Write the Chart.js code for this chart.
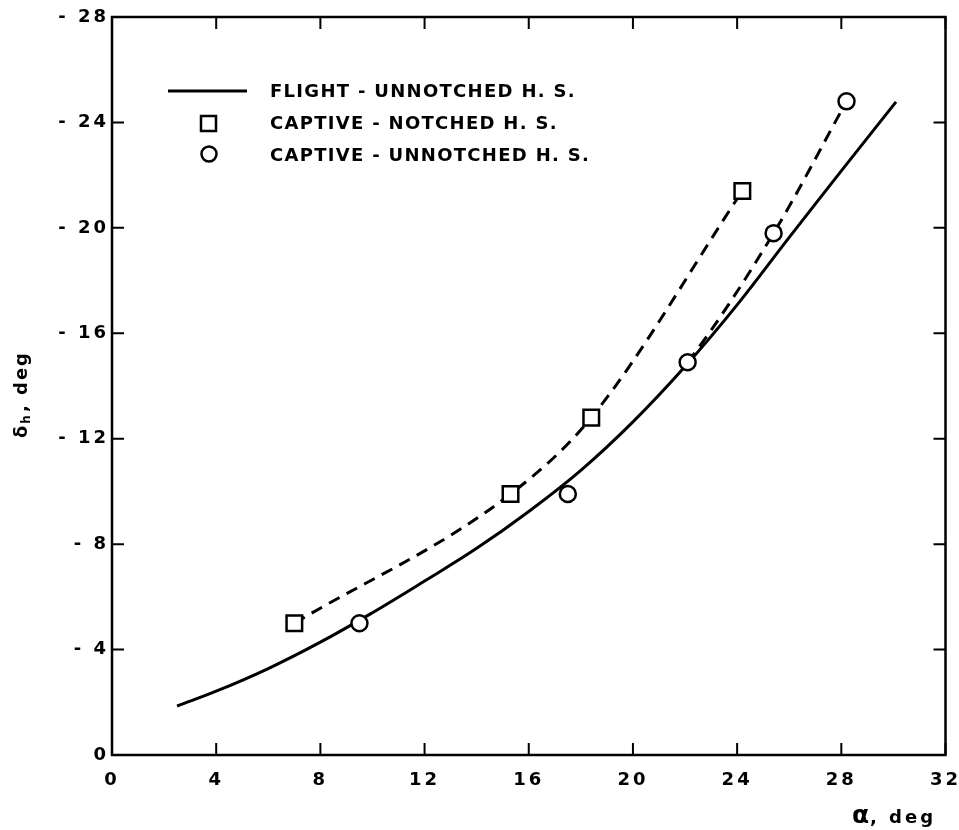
<!DOCTYPE html>
<html>
<head>
<meta charset="utf-8">
<script src="https://cdn.jsdelivr.net/npm/chart.js@4.4.1/dist/chart.umd.min.js"></script>
<style>
  html, body { margin: 0; padding: 0; background: #fff; }
</style>
</head>
<body>
<canvas id="myChart" width="959" height="830"></canvas>
<script>
// values (alpha in deg, delta_h in deg)
const alphaFlight = [2.5, 4, 6, 8, 10, 12, 14, 16, 18, 20, 22, 24, 26, 28, 30.1];
const deltaFlight = [-1.86, -2.42, -3.28, -4.28, -5.4, -6.6, -7.84, -9.24, -10.8, -12.64, -14.74, -17.08, -19.64, -22.16, -24.78];

const alphaNotched = [7.0, 15.3, 18.4, 24.2];
const deltaNotched = [-5.0, -9.9, -12.8, -21.4];

const alphaUnnotched = [9.5, 17.5, 22.1, 25.4, 28.2];
const deltaUnnotched = [-5.0, -9.9, -14.9, -19.8, -24.8];

const xTicks = [0, 4, 8, 12, 16, 20, 24, 28, 32];
const yTicks = [0, -4, -8, -12, -16, -20, -24, -28];

const seriesNames = ["FLIGHT - UNNOTCHED H. S.", "CAPTIVE - NOTCHED H. S.", "CAPTIVE - UNNOTCHED H. S."];

const FONT = '"DejaVu Sans", sans-serif';

function pairs(xs, ys) {
    let out = [];
    for (let i = 0; i < xs.length; i++) {
        out.push({ x: xs[i], y: ys[i] });
    }
    return out;
}

// box round the plot with inward ticks on all four sides
const framePlugin = {
    id: 'frame',
    beforeDraw(chart) {
        chart.ctx.letterSpacing = '3px';
    },
    afterDraw(chart) {
        chart.ctx.letterSpacing = '0px';
    },
    beforeDatasetsDraw(chart) {
        const ctx = chart.ctx;
        const { left, right, top, bottom } = chart.chartArea;
        const xs = chart.scales.x, ys = chart.scales.y;
        ctx.save();
        ctx.strokeStyle = '#000';
        ctx.lineWidth = 2.5;
        ctx.strokeRect(left, top, right - left, bottom - top);
        ctx.lineWidth = 2;
        ctx.beginPath();
        xs.ticks.forEach(t => {
            const px = xs.getPixelForValue(t.value);
            ctx.moveTo(px, bottom); ctx.lineTo(px, bottom - 12);
            ctx.moveTo(px, top); ctx.lineTo(px, top + 12);
        });
        ys.ticks.forEach(t => {
            const py = ys.getPixelForValue(t.value);
            ctx.moveTo(left, py); ctx.lineTo(left + 12, py);
            ctx.moveTo(right, py); ctx.lineTo(right - 12, py);
        });
        ctx.stroke();
        ctx.restore();
    }
};

// legend box in the upper left of the plot, plus both axis titles
const notesPlugin = {
    id: 'notes',
    afterDatasetsDraw(chart) {
        const ctx = chart.ctx;
        const labels = chart.data.datasets.map(d => d.label);
        ctx.save();
        ctx.strokeStyle = '#000';
        ctx.fillStyle = '#000';

        // legend keys
        ctx.lineWidth = 3;
        ctx.beginPath();
        ctx.moveTo(168, 91); ctx.lineTo(247, 91);
        ctx.stroke();
        ctx.lineWidth = 2.5;
        ctx.strokeRect(201, 116, 15, 15);
        ctx.beginPath();
        ctx.arc(209, 154, 7.5, 0, Math.PI * 2);
        ctx.stroke();

        ctx.letterSpacing = '1.3px';
        ctx.font = 'bold 18px ' + FONT;
        ctx.textAlign = 'left';
        ctx.textBaseline = 'middle';
        ctx.fillText(labels[0], 270, 92);
        ctx.fillText(labels[1], 270, 124);
        ctx.fillText(labels[2], 270, 156);

        // x title
        ctx.letterSpacing = '3px';
        ctx.font = 'bold 25px ' + FONT;
        ctx.fillText('α', 852, 816);
        ctx.font = 'bold 18px ' + FONT;
        ctx.fillText(', deg', 870, 818);

        // y title, rotated
        ctx.letterSpacing = '2px';
        ctx.translate(22, 393);
        ctx.rotate(-Math.PI / 2);
        ctx.textAlign = 'left';
        ctx.font = 'bold 18px ' + FONT;
        let x0 = -45;
        ctx.fillText('δ', x0, 0);
        x0 += ctx.measureText('δ').width;
        ctx.font = 'bold 12px ' + FONT;
        ctx.fillText('h', x0, 5);
        x0 += ctx.measureText('h').width + 1;
        ctx.font = 'bold 18px ' + FONT;
        ctx.fillText(', deg', x0, 0);
        ctx.restore();
    }
};

const data = {
    datasets: [
        {
            label: seriesNames[0],
            data: pairs(alphaFlight, deltaFlight),
            borderColor: '#000',
            borderWidth: 3,
            pointRadius: 0,
            showLine: true,
            tension: 0.4,
            order: 3
        },
        {
            label: seriesNames[1],
            data: pairs(alphaNotched, deltaNotched),
            borderColor: '#000',
            borderWidth: 3,
            borderDash: [12, 8],
            showLine: true,
            cubicInterpolationMode: 'monotone',
            pointStyle: 'rect',
            pointRadius: 11,
            pointBorderWidth: 2.5,
            pointBackgroundColor: '#fff',
            pointBorderColor: '#000',
            order: 2
        },
        {
            label: seriesNames[2],
            data: pairs(alphaUnnotched, deltaUnnotched),
            borderColor: '#000',
            borderWidth: 3,
            borderDash: [12, 8],
            showLine: true,
            cubicInterpolationMode: 'monotone',
            // only the upper points are joined by a dashed fairing
            segment: {
                borderColor: ctx => ctx.p0DataIndex >= 2 ? '#000' : 'rgba(0,0,0,0)'
            },
            pointStyle: 'circle',
            pointRadius: 8,
            pointBorderWidth: 2.5,
            pointBackgroundColor: '#fff',
            pointBorderColor: '#000',
            order: 1
        }
    ]
};

const config = {
    type: 'scatter',
    data: data,
    options: {
        responsive: false,
        animation: false,
        layout: { padding: { left: 0, top: 17, right: 11, bottom: 0 } },
        plugins: {
            legend: { display: false },
            tooltip: { enabled: false }
        },
        scales: {
            x: {
                type: 'linear',
                min: 0,
                max: 32,
                afterBuildTicks: s => { s.ticks = xTicks.map(v => ({ value: v })); },
                afterFit: s => { s.height = 75; s.paddingLeft = 0; s.paddingRight = 0; },
                grid: { display: false, drawTicks: false },
                border: { display: false },
                ticks: {
                    color: '#000',
                    padding: 15,
                    maxRotation: 0,
                    font: { family: FONT, size: 18, weight: 'bold' },
                    callback: v => String(v)
                }
            },
            y: {
                type: 'linear',
                min: -28,
                max: 0,
                reverse: true,
                afterBuildTicks: s => { s.ticks = yTicks.map(v => ({ value: v })); },
                afterFit: s => { s.width = 112; s.paddingTop = 0; s.paddingBottom = 0; },
                grid: { display: false, drawTicks: false },
                border: { display: false },
                ticks: {
                    color: '#000',
                    padding: 3,
                    font: { family: FONT, size: 18, weight: 'bold' },
                    callback: v => v === 0 ? '0' : '- ' + Math.abs(v)
                }
            }
        }
    },
    plugins: [framePlugin, notesPlugin]
};

window.mychart = new Chart(document.getElementById('myChart'), config);
</script>
</body>
</html>
